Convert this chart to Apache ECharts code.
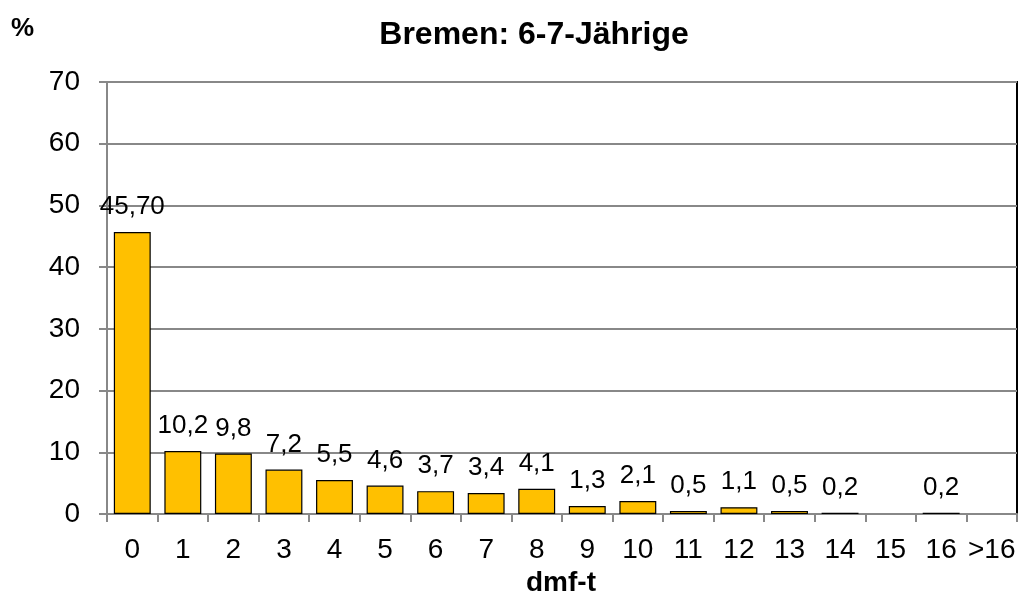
<!DOCTYPE html>
<html><head><meta charset="utf-8">
<script src="https://cdn.jsdelivr.net/npm/echarts@6/dist/echarts.min.js"></script>
<style>html,body{margin:0;padding:0;background:#fff}#c{width:1020px;height:601px}</style>
</head><body><div id="c"></div>
<script>
const categories = ['0','1','2','3','4','5','6','7','8','9','10','11','12','13','14','15','16','>16'];
const values = [45.7,10.2,9.8,7.2,5.5,4.6,3.7,3.4,4.1,1.3,2.1,0.5,1.1,0.5,0.2,null,0.2,null];
const labelTexts = ['45,70','10,2','9,8','7,2','5,5','4,6','3,7','3,4','4,1','1,3','2,1','0,5','1,1','0,5','0,2','','0,2',''];
const titleText = 'Bremen: 6-7-Jährige';
const yUnit = '%';
const xName = 'dmf-t';

const chart = echarts.init(document.getElementById('c'));
const F = 'Liberation Sans, Arial, sans-serif';
chart.setOption({
  animation: false,
  backgroundColor: '#fff',
  title: { text: titleText, left: 529, top: 14, textAlign: 'center',
    textStyle: { fontFamily: F, fontSize: 32, fontWeight: 'bold', color: '#000' } },
  graphic: [
    { type: 'text', left: 11, top: 16, style: { text: yUnit, font: 'bold 26px ' + F, fill: '#000' } },
    { type: 'text', left: 526, top: 569, style: { text: xName, font: 'bold 28px ' + F, fill: '#000' } }
  ],
  grid: { left: 107, right: 3, top: 82, bottom: 87, show: true, borderColor: '#000', borderWidth: 2 },
  xAxis: {
    type: 'category', data: categories,
    axisLine: { lineStyle: { color: '#888', width: 2 } },
    axisTick: { show: true, alignWithLabel: false, length: 8, lineStyle: { color: '#888', width: 2 } },
    axisLabel: { fontFamily: F, fontSize: 28, color: '#000', margin: 22, interval: 0 }
  },
  yAxis: {
    type: 'value', min: 0, max: 70, interval: 10,
    axisLine: { show: true, lineStyle: { color: '#888', width: 2 } },
    axisTick: { show: true, length: 8, lineStyle: { color: '#888', width: 2 } },
    splitLine: { lineStyle: { color: '#888', width: 2 } },
    axisLabel: { fontFamily: F, fontSize: 28, color: '#000', margin: 27 }
  },
  series: [{
    type: 'bar', data: values, barCategoryGap: '27%',
    itemStyle: { color: '#FFC000', borderColor: '#000', borderWidth: 1.2 },
    label: { show: true, position: 'top', distance: 12, fontFamily: F, fontSize: 26, color: '#000',
      formatter: p => labelTexts[p.dataIndex] }
  }]
});
</script></body></html>
